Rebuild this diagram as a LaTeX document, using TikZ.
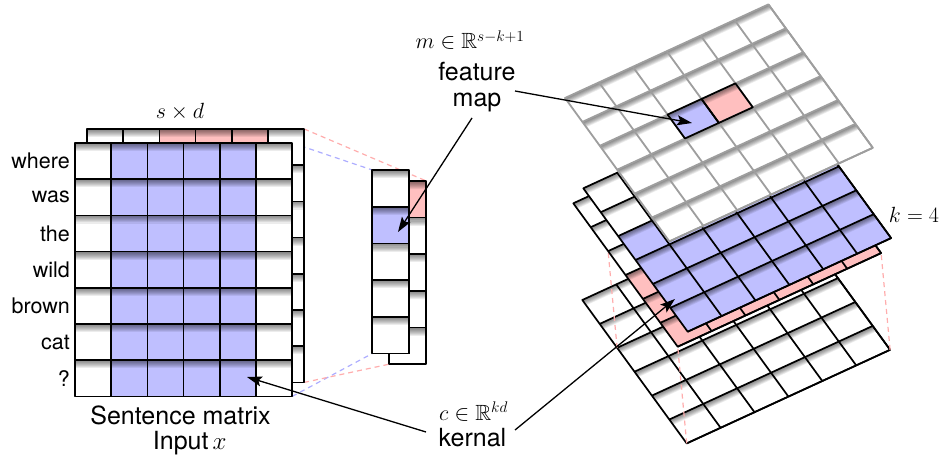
\RequirePackage{fix-cm}
\documentclass[tikz,border=0pt]{standalone}
\usepackage{amssymb}
\usepackage[no-math]{fontspec}
\setmainfont{TeX Gyre Heros}
\usetikzlibrary{arrows.meta}

\pgfdeclarelayer{bg}
\pgfsetlayers{bg,main}

\colorlet{kblue}{blue!25}
\colorlet{kpink}{red!25}
\colorlet{fmgrey}{black!38}

% one grid cell, filled, with a soft shadow under its upper edge
\newcommand\shadecell[3]{%
  \fill[#3] (#1,#2) -- ++(1,0) -- ++(0,1) -- ++(-1,0) -- cycle;
  \foreach \k in {1,...,8}{%
    \fill[black,fill opacity=0.075] (#1,#2) -- ++(1,0) -- ++(0,\k*0.028) -- ++(-1,0) -- cycle;
  }%
}
% all lines of a #2 x #3 grid
\newcommand\gridlines[3][]{%
  \draw[#1] (0,0) -- (#2,0) -- (#2,#3) -- (0,#3) -- cycle;
  \foreach \i in {1,...,#2} \draw[#1] (\i,0) -- (\i,#3);
  \foreach \j in {1,...,#3} \draw[#1] (0,\j) -- (#2,\j);
}
% outline of a single cell
\newcommand\celledge[3][]{\draw[#1] (#2,#3) -- ++(1,0) -- ++(0,1) -- ++(-1,0) -- cycle;}

\begin{document}
\begin{tikzpicture}[x=1pt,y=-1pt,line join=round,
  cellline/.style={line width=1.7pt,black},
  fmline/.style={line width=1.8pt,fmgrey},
  pinkdash/.style={red!32,line width=1.2pt,dash pattern=on 5pt off 4pt},
  bluedash/.style={blue!32,line width=1.2pt,dash pattern=on 5pt off 4pt},
  pointer/.style={line width=1.3pt,-{Stealth[length=15pt,width=10pt,inset=3pt]}},
  lbl/.style={font=\fontsize{25}{26}\selectfont,inner sep=0pt},
  word/.style={font=\fontsize{21.5}{24}\selectfont,inner sep=0pt,anchor=east},
  mth/.style={font=\fontsize{22}{24}\selectfont,inner sep=0pt},
  plane/.style={x={(33.9pt,15.6pt)},y={(17.4pt,-23.9pt)}},
  sq/.style={x={(36.2pt,0pt)},y={(0pt,-36.2pt)}},
  colm/.style={x={(36.7pt,0pt)},y={(0pt,-36.7pt)}}]
\useasboundingbox (0,0) rectangle (940,460);

% ---------------- sentence matrix, back copy
\begin{scope}[shift={(87,129)},sq]
  \foreach \u in {0,...,5}\foreach \v in {0,...,6}{\shadecell{\u}{\v}{white}}
  \foreach \u in {2,3,4}{\shadecell{\u}{0}{kpink}}
  \gridlines[cellline]{6}{7}
  \coordinate (bm-tr) at (6,0);
  \coordinate (bm-br) at (6,7);
\end{scope}
% ---------------- sentence matrix, front copy
\begin{scope}[shift={(75,143)},sq]
  \foreach \u in {0,...,5}\foreach \v in {0,...,6}{\shadecell{\u}{\v}{white}}
  \foreach \u in {1,...,4}\foreach \v in {0,...,6}{\shadecell{\u}{\v}{kblue}}
  \gridlines[cellline]{6}{7}
  \coordinate (fm-tr) at (6,0);
  \coordinate (fm-br) at (6,7);
\end{scope}
% ---------------- feature column, back copy
\begin{scope}[shift={(389,180.7)},colm]
  \foreach \v in {0,...,4}{\shadecell{0}{\v}{white}}
  \shadecell{0}{0}{kpink}
  \gridlines[cellline]{1}{5}
  \coordinate (bc-tr) at (1,0);
  \coordinate (bc-bl) at (0,5);
\end{scope}
% ---------------- feature column, front copy
\begin{scope}[shift={(372.3,170)},colm]
  \foreach \v in {0,...,4}{\shadecell{0}{\v}{white}}
  \shadecell{0}{1}{kblue}
  \gridlines[cellline]{1}{5}
  \coordinate (fc-tl) at (0,0);
  \coordinate (fc-bl) at (0,5);
\end{scope}
% projection lines from the matrix to the column
\begin{pgfonlayer}{bg}
  \draw[bluedash] (fm-tr) -- (fc-tl);
  \draw[bluedash] (fm-br) -- (fc-bl);
  \draw[pinkdash] (bm-tr) -- (bc-tr);
  \draw[pinkdash] (bm-br) -- (bc-bl);
\end{pgfonlayer}

% ---------------- row words
\foreach \w [count=\i from 0] in {where,was,the,wild,brown,cat,?}
  \node[word] (row\i) at (70,{161.1+36.2*\i}) {\w};

% ---------------- perspective stack: base grid
\begin{scope}[shift={(582.3,300)},plane]
  \foreach \u in {0,...,5}\foreach \v in {0,...,5}{\shadecell{\u}{\v}{white}}
  \gridlines[cellline]{6}{6}
  \coordinate (g-a) at (0,2);
  \coordinate (g-b) at (6,2);
  \coordinate (g-c) at (6,6);
  \coordinate (g-d) at (0,6);
\end{scope}
\begin{scope}[shift={(573.3,203.3)},plane]
  \coordinate (p-a) at (0,2);
  \coordinate (p-b) at (6,2);
  \coordinate (p-c) at (6,6);
  \coordinate (p-d) at (0,6);
\end{scope}
\draw[pinkdash] (g-a) -- (p-a);
\draw[pinkdash] (g-b) -- (p-b);
\draw[pinkdash] (g-c) -- (p-c);
\draw[pinkdash] (g-d) -- (p-d);
% lifted layer with the shifted window
\begin{scope}[shift={(573.3,203.3)},plane]
  \foreach \u in {0,...,5}\foreach \v in {0,...,5}{\shadecell{\u}{\v}{white}}
  \foreach \u in {0,...,5}\foreach \v in {3,4,5}{\shadecell{\u}{\v}{kpink}}
  \gridlines[cellline]{6}{6}
\end{scope}
% lifted layer with the kernel window
\begin{scope}[shift={(583.3,188.3)},plane]
  \foreach \u in {0,...,5}\foreach \v in {0,...,5}{\shadecell{\u}{\v}{white}}
  \foreach \u in {0,...,5}\foreach \v in {2,...,5}{\shadecell{\u}{\v}{kblue}}
  \gridlines[cellline]{6}{6}
\end{scope}
% feature map layer
\begin{scope}[shift={(565,98)},plane]
  \foreach \u in {0,...,5}\foreach \v in {0,...,5}{\shadecell{\u}{\v}{white}}
  \shadecell{2}{2}{kblue}
  \shadecell{3}{2}{kpink}
  \gridlines[fmline]{6}{6}
  \celledge[cellline]{2}{2}
  \celledge[cellline]{3}{2}
\end{scope}

% ---------------- labels
\node[mth,anchor=base] (sd) at (180,118) {$s\times d$};
\node[lbl,anchor=base] (smx) at (180.5,424.7) {Sentence matrix};
\node[lbl,anchor=base] (inp) at (189.7,449.5) {Input\,$x$};
\node[mth,anchor=base] (mdim) at (470,49) {$m\in\mathbb{R}^{s-k+1}$};
\node[lbl,align=center] (fmap) at (477,87.3) {feature\\map};
\node[mth,anchor=base] (cdim) at (473.5,420) {$c\in\mathbb{R}^{kd}$};
\node[lbl,anchor=base] (kern) at (472.5,446.7) {kernal};
\node[mth,anchor=base] (kval) at (914,222) {$k=4$};

% ---------------- pointers
\coordinate (fmap-r) at (515,91);
\coordinate (fmap-b) at (472,118);
\coordinate (kern-l) at (426,432);
\coordinate (kern-r) at (515,430);
\coordinate (t-fm3d) at (692,123);
\coordinate (t-fmcol) at (398,232);
\coordinate (t-kmat) at (247,377);
\coordinate (t-k3d) at (675,299);
\draw[pointer] (fmap-r) -- (t-fm3d);
\draw[pointer] (fmap-b) -- (t-fmcol);
\draw[pointer] (kern-l) -- (t-kmat);
\draw[pointer] (kern-r) -- (t-k3d);
\end{tikzpicture}
\end{document}
